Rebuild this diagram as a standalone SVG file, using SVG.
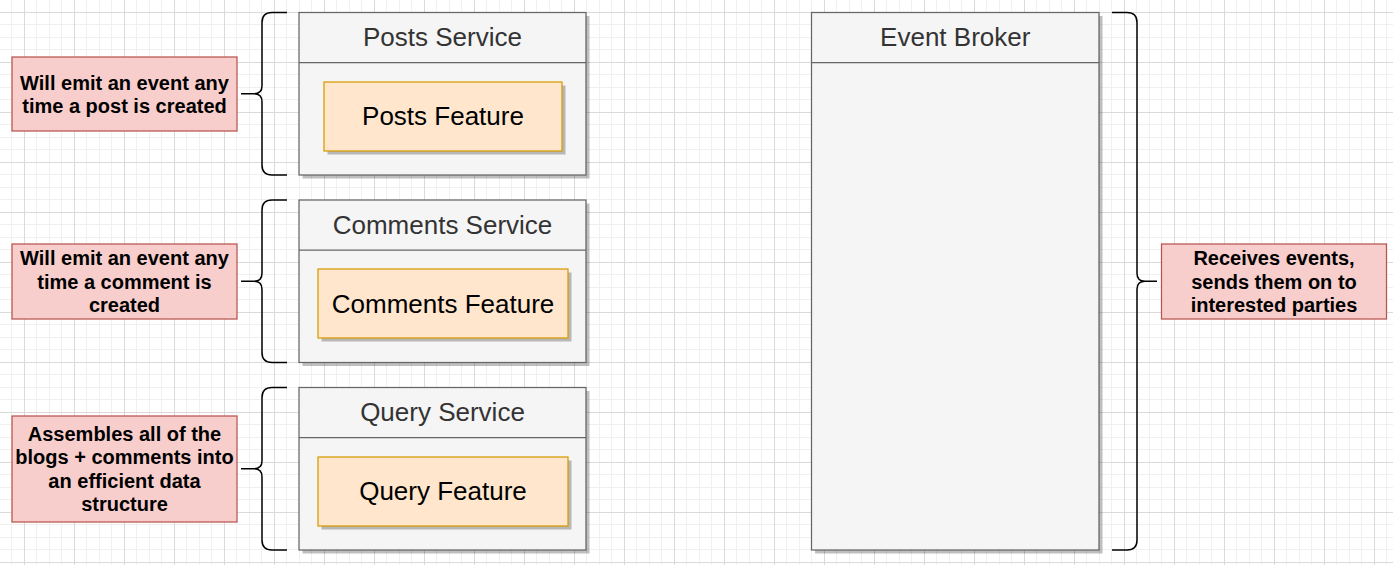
<svg xmlns="http://www.w3.org/2000/svg" width="1393" height="565" viewBox="0 0 1393 565">
<defs>
<pattern id="grid" patternUnits="userSpaceOnUse" x="24" y="12" width="50" height="50">
<rect x="12" y="0" width="1" height="50" fill="#f0f0f0"/>
<rect x="25" y="0" width="1" height="50" fill="#f0f0f0"/>
<rect x="37" y="0" width="1" height="50" fill="#f0f0f0"/>
<rect x="0" y="12" width="50" height="1" fill="#f0f0f0"/>
<rect x="0" y="25" width="50" height="1" fill="#f0f0f0"/>
<rect x="0" y="37" width="50" height="1" fill="#f0f0f0"/>
<rect x="0" y="0" width="1" height="50" fill="#dadada"/>
<rect x="0" y="0" width="50" height="1" fill="#dadada"/>
</pattern>
<style>
.svc{fill:#f5f5f5;stroke:#666666;stroke-width:1.25}
.shadow{fill:#000;opacity:0.25}
.div{stroke:#666666;stroke-width:1.25}
.title{font-family:"Liberation Sans",Arial,sans-serif;font-size:26px;fill:#333333;text-anchor:middle}
.feat{fill:#ffe6cc;stroke:#d79b00;stroke-width:1.25}
.ftext{font-family:"Liberation Sans",Arial,sans-serif;font-size:26px;fill:#000;text-anchor:middle}
.note{fill:#f8cecc;stroke:#b85450;stroke-width:1.25}
.ntext{font-family:"Liberation Sans",Arial,sans-serif;font-size:20px;font-weight:bold;fill:#000;text-anchor:middle}
.brace{fill:none;stroke:#000;stroke-width:1.5}
</style>
</defs>
<rect width="1393" height="565" fill="#ffffff"/>
<rect width="1393" height="565" fill="url(#grid)"/>

<g id="connectors">
<path class="brace" d="M287,12.5 h-15 q-10,0 -10,10 v63.25 q0,8 -8,8 h-13 h13 q8,0 8,8 v63.25 q0,10 10,10 h15"/>
<path class="brace" d="M287,200 h-15 q-10,0 -10,10 v63.25 q0,8 -8,8 h-13 h13 q8,0 8,8 v63.25 q0,10 10,10 h15"/>
<path class="brace" d="M287,387.5 h-15 q-10,0 -10,10 v63.25 q0,8 -8,8 h-13 h13 q8,0 8,8 v63.25 q0,10 10,10 h15"/>
<path class="brace" d="M1112,12.5 h15 q10,0 10,10 v250.75 q0,8 8,8 h12 h-12 q-8,0 -8,8 v250.75 q0,10 -10,10 h-15"/>
</g>

<g id="posts-note">
<rect class="note" x="12" y="57" width="225" height="74"/>
<text class="ntext" x="124.5" y="89.5">Will emit an event any</text>
<text class="ntext" x="124.5" y="113">time a post is created</text>
</g>

<g id="comments-note">
<rect class="note" x="12" y="244" width="225" height="75"/>
<text class="ntext" x="124.5" y="265">Will emit an event any</text>
<text class="ntext" x="124.5" y="288.5">time a comment is</text>
<text class="ntext" x="124.5" y="312">created</text>
</g>

<g id="query-note">
<rect class="note" x="12" y="416" width="225" height="106"/>
<text class="ntext" x="124.5" y="440.5">Assembles all of the</text>
<text class="ntext" x="124.5" y="464">blogs + comments into</text>
<text class="ntext" x="124.5" y="487.5">an efficient data</text>
<text class="ntext" x="124.5" y="511">structure</text>
</g>

<g id="broker-note">
<rect class="note" x="1161.5" y="244" width="225" height="75"/>
<text class="ntext" x="1274" y="265">Receives events,</text>
<text class="ntext" x="1274" y="288.5">sends them on to</text>
<text class="ntext" x="1274" y="312">interested parties</text>
</g>

<g id="posts-service">
<rect class="shadow" x="302.5" y="16" width="287" height="162.5"/>
<rect class="svc" x="299" y="12.5" width="287" height="162.5"/>
<line class="div" x1="299" y1="62.5" x2="586" y2="62.5"/>
<text class="title" x="442.5" y="46">Posts Service</text>
</g>
<g id="posts-feature">
<rect class="shadow" x="327.5" y="85.5" width="238" height="69"/>
<rect class="feat" x="324" y="82" width="238" height="69"/>
<text class="ftext" x="443" y="125">Posts Feature</text>
</g>

<g id="comments-service">
<rect class="shadow" x="302.5" y="203.5" width="287" height="162.5"/>
<rect class="svc" x="299" y="200" width="287" height="162.5"/>
<line class="div" x1="299" y1="250" x2="586" y2="250"/>
<text class="title" x="442.5" y="233.5">Comments Service</text>
</g>
<g id="comments-feature">
<rect class="shadow" x="321.5" y="272.5" width="250" height="69"/>
<rect class="feat" x="318" y="269" width="250" height="69"/>
<text class="ftext" x="443" y="312.5">Comments Feature</text>
</g>

<g id="query-service">
<rect class="shadow" x="302.5" y="391" width="287" height="162.5"/>
<rect class="svc" x="299" y="387.5" width="287" height="162.5"/>
<line class="div" x1="299" y1="437.5" x2="586" y2="437.5"/>
<text class="title" x="442.5" y="421">Query Service</text>
</g>
<g id="query-feature">
<rect class="shadow" x="321.5" y="460.5" width="250" height="69"/>
<rect class="feat" x="318" y="457" width="250" height="69"/>
<text class="ftext" x="443" y="500">Query Feature</text>
</g>

<g id="event-broker">
<rect class="shadow" x="815" y="16" width="287.5" height="537.5"/>
<rect class="svc" x="811.5" y="12.5" width="287.5" height="537.5"/>
<line class="div" x1="811.5" y1="62.5" x2="1099" y2="62.5"/>
<text class="title" x="955.25" y="46">Event Broker</text>
</g>
</svg>
